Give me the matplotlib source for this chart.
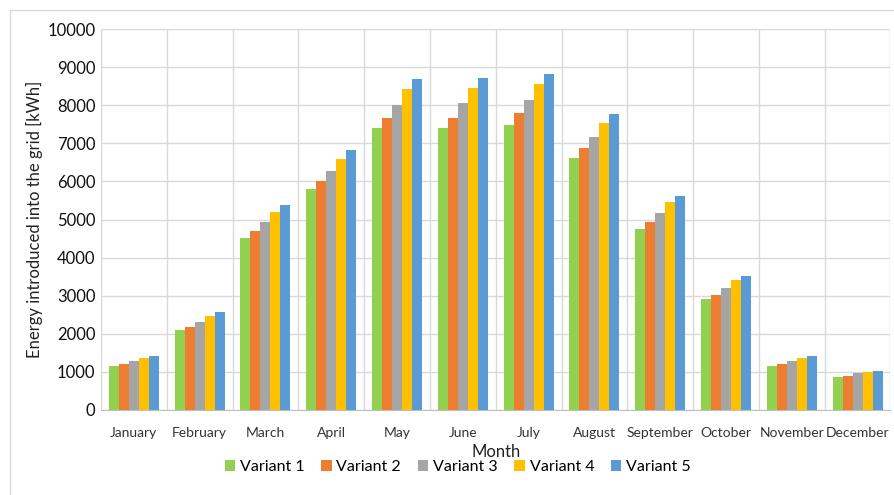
import matplotlib
matplotlib.use("Agg")
import matplotlib.pyplot as plt
import numpy as np

months = ["January", "February", "March", "April", "May", "June", "July",
          "August", "September", "October", "November", "December"]
variant_1 = [1150, 2100, 4520, 5800, 7400, 7400, 7480, 6620, 4760, 2900, 1150, 870]
variant_2 = [1200, 2180, 4700, 6000, 7680, 7680, 7800, 6870, 4930, 3020, 1200, 900]
variant_3 = [1280, 2320, 4930, 6280, 8020, 8050, 8150, 7160, 5180, 3200, 1280, 960]
variant_4 = [1350, 2460, 5200, 6600, 8420, 8450, 8550, 7530, 5450, 3400, 1350, 1000]
variant_5 = [1420, 2560, 5380, 6820, 8680, 8720, 8820, 7760, 5620, 3520, 1420, 1030]
series = [variant_1, variant_2, variant_3, variant_4, variant_5]
labels = ["Variant 1", "Variant 2", "Variant 3", "Variant 4", "Variant 5"]
colors = ["#92D050", "#ED7D31", "#A5A5A5", "#FFC000", "#5B9BD5"]

plt.rcParams["font.family"] = ["Lato", "DejaVu Sans"]

fig = plt.figure(figsize=(8.94, 4.95), dpi=100)
ax = fig.add_axes([0.113, 0.172, 0.883, 0.769])

x = np.arange(len(months))
w = 0.152
for i, (vals, lab, c) in enumerate(zip(series, labels, colors)):
    ax.bar(x + (i - 2) * w, vals, w, color=c, label=lab, zorder=3)

ax.set_xlim(-0.5, len(months) - 0.5)
ax.set_ylim(0, 10000)
ax.set_yticks(np.arange(0, 10001, 1000))
ax.set_xticks(x)
ax.set_xticklabels(months, fontsize=10, color="#333333")
ax.tick_params(axis="y", labelsize=12, length=0, pad=4, labelcolor="#111111")
ax.tick_params(axis="x", length=0, pad=12)
ax.set_xticks(np.arange(-0.5, len(months), 1), minor=True)
ax.tick_params(axis="x", which="minor", length=0)
ax.grid(axis="y", color="#D9D9D9", lw=1, zorder=0)
ax.grid(axis="x", which="minor", color="#D9D9D9", lw=1, zorder=0)
for s in ["top", "right", "left"]:
    ax.spines[s].set_visible(False)
ax.spines["bottom"].set_color("#BFBFBF")

ax.set_ylabel("Energy introduced into the grid [kWh]", fontsize=12, color="#222222", labelpad=3)
ax.set_xlabel("Month", fontsize=12, color="#222222", labelpad=4)

fig.legend(loc="center", bbox_to_anchor=(0.512, 0.056), ncol=5, frameon=False,
           fontsize=11.5, handlelength=0.65, handleheight=0.65, handletextpad=0.3,
           columnspacing=1.05)

fig.patches.append(plt.Rectangle((0.011, -0.1), 1.2, 1.08, transform=fig.transFigure,
                                 fill=False, edgecolor="#D9D9D9", lw=1))

fig.savefig("out.png", dpi=100)
